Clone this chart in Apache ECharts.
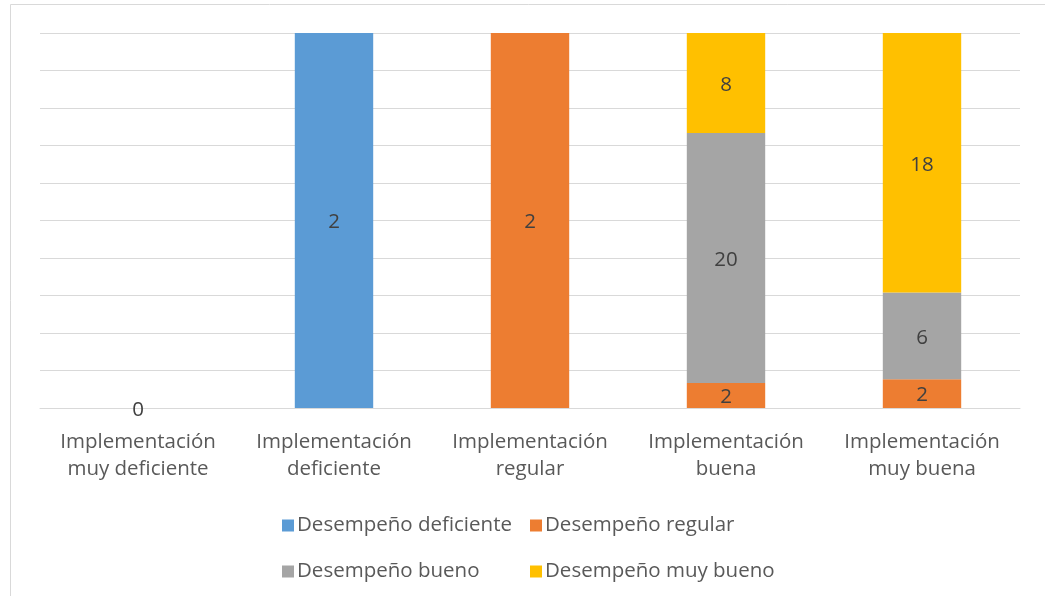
<!DOCTYPE html>
<html>
<head>
<meta charset="utf-8">
<script src="https://cdn.jsdelivr.net/npm/echarts@6/dist/echarts.min.js"></script>
<style>
  html, body { margin: 0; padding: 0; background: #fff; }
  #chart { width: 1045px; height: 596px; }
</style>
</head>
<body>
<div id="chart"></div>
<script>
// Categories along the x axis
const categories = [
  'Implementación\nmuy deficiente',
  'Implementación\ndeficiente',
  'Implementación\nregular',
  'Implementación\nbuena',
  'Implementación\nmuy buena'
];

// Counts per performance level in each implementation group
const seriesNames = ['Desempeño deficiente', 'Desempeño regular', 'Desempeño bueno', 'Desempeño muy bueno'];
const deficiente = [0, 2, null, null, null];
const regular    = [null, null, 2, 2, 2];
const bueno      = [null, null, null, 20, 6];
const muyBueno   = [null, null, null, 8, 18];
const colors = ['#5B9BD5', '#ED7D31', '#A5A5A5', '#FFC000'];

const raw = [deficiente, regular, bueno, muyBueno];
// Column totals for the 100% stacking
const totals = categories.map((_, i) => raw.reduce((s, arr) => s + (arr[i] || 0), 0));

const FONT = 'Open Sans';
const TEXT = '#595959';
const SIZE = 20.5;

const series = raw.map((arr, si) => ({
  name: seriesNames[si],
  type: 'bar',
  stack: 'total',
  barWidth: '40%',
  itemStyle: { color: colors[si] },
  label: {
    show: true,
    position: 'inside',
    offset: [0, 2],
    color: '#404040',
    fontFamily: FONT,
    fontSize: SIZE,
    formatter: p => String(arr[p.dataIndex])
  },
  data: arr.map((v, i) => v === null ? null : (totals[i] ? v / totals[i] * 100 : 0))
}));

const legendPos = [
  { left: 277, top: 510 },
  { left: 525, top: 510 },
  { left: 277, top: 556 },
  { left: 525, top: 556 }
];
const legends = seriesNames.map((n, i) => ({
  data: [n],
  left: legendPos[i].left,
  top: legendPos[i].top,
  orient: 'horizontal',
  itemWidth: 12,
  itemHeight: 12,
  itemGap: 0,
  icon: 'rect',
  selectedMode: false,
  textStyle: { color: TEXT, fontFamily: FONT, fontSize: SIZE, padding: [0, 0, 0, -2] }
}));

const chart = echarts.init(document.getElementById('chart'));
chart.setOption({
  animation: false,
  graphic: [{
    type: 'rect',
    shape: { x: 10.5, y: 4.5, width: 1100, height: 700 },
    style: { fill: 'none', stroke: '#d9d9d9', lineWidth: 1 },
    silent: true
  }],
  grid: { left: 40, right: 25, top: 33, bottom: 188 },
  legend: legends,
  xAxis: {
    type: 'category',
    data: categories,
    axisLine: { lineStyle: { color: '#d9d9d9', width: 1 } },
    axisTick: { show: false },
    axisLabel: {
      interval: 0,
      hideOverlap: false,
      color: TEXT,
      fontFamily: FONT,
      fontSize: SIZE,
      lineHeight: 27,
      margin: 21
    }
  },
  yAxis: {
    type: 'value',
    min: 0,
    max: 100,
    interval: 10,
    axisLabel: { show: false },
    axisLine: { show: false },
    axisTick: { show: false },
    splitLine: { lineStyle: { color: '#d9d9d9', width: 1 } }
  },
  series: series
});
</script>
</body>
</html>
